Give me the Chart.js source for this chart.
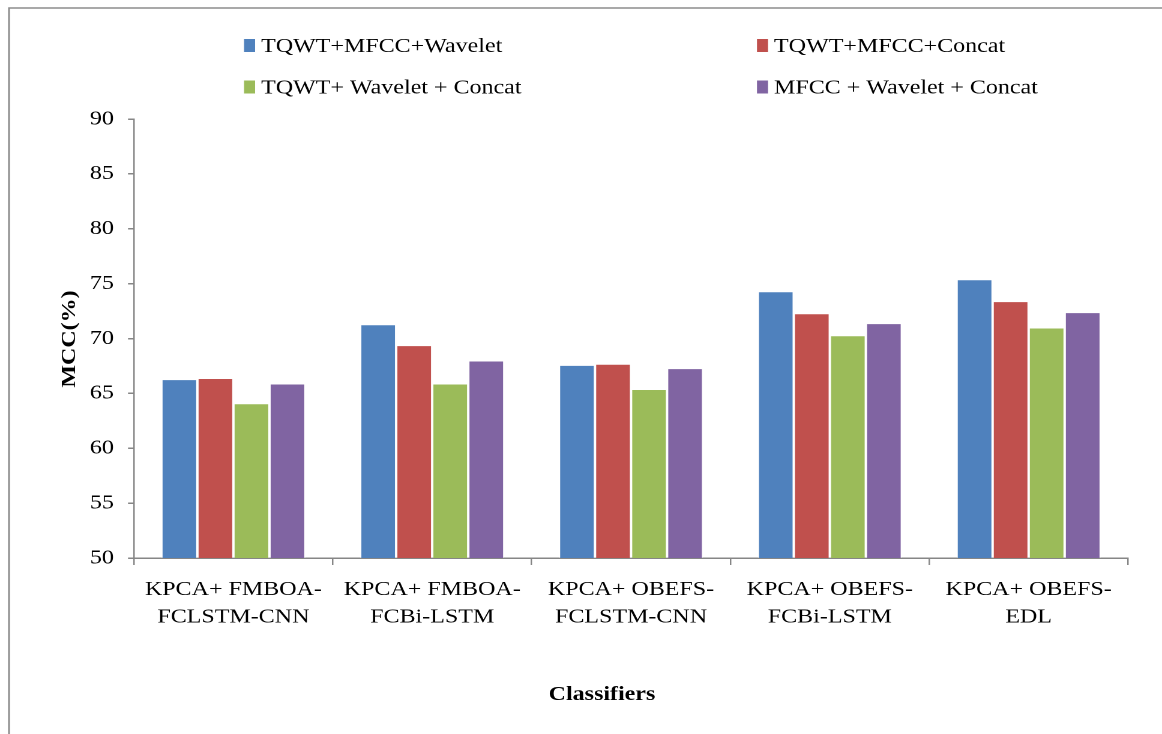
<!DOCTYPE html>
<html>
<head>
<meta charset="utf-8">
<script src="https://cdn.jsdelivr.net/npm/chart.js@4.4.1/dist/chart.umd.min.js"></script>
<style>
  html, body { margin: 0; padding: 0; background: #ffffff; overflow: hidden; }
  /* The figure is drawn on a narrower canvas and widened horizontally,
     giving the broad serif lettering of the original figure. */
  #wrap { width: 968px; height: 734px; position: relative; transform: scaleX(1.20041); transform-origin: 0 0; }
</style>
</head>
<body>
<div id="wrap"><canvas id="c" width="968" height="734"></canvas></div>
<script>
// Classifier groups on the x axis (two-line labels)
const categories = [
  ['KPCA+ FMBOA-', 'FCLSTM-CNN'],
  ['KPCA+ FMBOA-', 'FCBi-LSTM'],
  ['KPCA+ OBEFS-', 'FCLSTM-CNN'],
  ['KPCA+ OBEFS-', 'FCBi-LSTM'],
  ['KPCA+ OBEFS-', 'EDL']
];

// Feature combinations (series)
const seriesNames = [
  'TQWT+MFCC+Wavelet',
  'TQWT+MFCC+Concat',
  'TQWT+ Wavelet + Concat',
  'MFCC + Wavelet + Concat'
];
const seriesColors = ['#4F81BD', '#C0504D', '#9BBB59', '#8064A2'];

// MCC (%) per classifier
const tqwtMfccWavelet   = [66.3, 71.3, 67.6, 74.3, 75.4];
const tqwtMfccConcat    = [66.4, 69.4, 67.7, 72.3, 73.4];
const tqwtWaveletConcat = [64.1, 65.9, 65.4, 70.3, 71.0];
const mfccWaveletConcat = [65.9, 68.0, 67.3, 71.4, 72.4];

// Value axis range
const yMin = 50;
const yMax = 90;
const yStep = 5;

const yTitle = 'MCC(%)';
const xTitle = 'Classifiers';

const FONT = '"Liberation Serif", "Times New Roman", serif';
const AXIS_GRAY = '#868686';
const WIDEN = 1.20041;

const seriesValues = [tqwtMfccWavelet, tqwtMfccConcat, tqwtWaveletConcat, mfccWaveletConcat];

// Frame, legend and axis titles
const decorPlugin = {
  id: 'decor',
  beforeDraw(chart) {
    const ctx = chart.ctx;
    ctx.save();
    ctx.strokeStyle = '#8c8c8c';
    ctx.lineWidth = 1.5;
    ctx.beginPath();
    ctx.moveTo(7.5, 734);
    ctx.lineTo(7.5, 8);
    ctx.lineTo(968, 8);
    ctx.stroke();
    ctx.restore();
  },
  afterDraw(chart) {
    const ctx = chart.ctx;
    ctx.save();
    // Legend: two rows, two columns
    const colX = [203.3, 630.6];
    const rowY = [45.5, 87];
    ctx.font = '20px ' + FONT;
    ctx.textBaseline = 'middle';
    ctx.textAlign = 'left';
    chart.data.datasets.forEach((ds, i) => {
      const x = colX[i % 2];
      const y = rowY[Math.floor(i / 2)];
      ctx.fillStyle = ds.backgroundColor;
      ctx.fillRect(x, y - 6.5, 9.2, 13);
      ctx.fillStyle = '#000000';
      ctx.fillText(ds.label, x + 14.2, y + 1);
    });
    // Axis titles
    ctx.font = 'bold 20px ' + FONT;
    ctx.fillStyle = '#000000';
    ctx.textAlign = 'center';
    ctx.textBaseline = 'middle';
    ctx.fillText(xTitle, 501.5, 695);
    // Rotated title keeps the same wide lettering along its length
    ctx.save();
    ctx.translate(58.3, 339);
    ctx.rotate(-Math.PI / 2);
    ctx.scale(WIDEN, 1 / WIDEN);
    ctx.fillText(yTitle, 0, 0);
    ctx.restore();
    ctx.restore();
  }
};

new Chart(document.getElementById('c'), {
  type: 'bar',
  data: {
    labels: categories,
    datasets: seriesNames.map((name, i) => ({
      label: name,
      data: seriesValues[i],
      backgroundColor: seriesColors[i],
      borderColor: 'rgba(255,255,255,0.35)',
      borderWidth: 1,
      barPercentage: 1.0,
      categoryPercentage: 0.725
    }))
  },
  options: {
    responsive: false,
    animation: false,
    devicePixelRatio: 2,
    layout: { padding: { top: 119, right: 28.3, left: 0, bottom: 0 } },
    plugins: {
      legend: { display: false },
      tooltip: { enabled: false },
      title: { display: false }
    },
    scales: {
      x: {
        afterFit(scale) { scale.height = 176; },
        grid: {
          display: true,
          drawOnChartArea: false,
          drawTicks: true,
          tickLength: 7,
          color: AXIS_GRAY,
          lineWidth: 1.25,
          offset: true
        },
        border: { display: true, color: AXIS_GRAY, width: 1.5 },
        ticks: {
          color: '#000000',
          font: { family: FONT, size: 20, lineHeight: 1.375 },
          padding: 11,
          maxRotation: 0,
          autoSkip: false
        }
      },
      y: {
        min: yMin,
        max: yMax,
        afterFit(scale) { scale.width = 111.63; },
        grid: {
          display: true,
          drawOnChartArea: false,
          drawTicks: true,
          tickLength: 5,
          color: AXIS_GRAY,
          lineWidth: 1.5
        },
        border: { display: true, color: AXIS_GRAY, width: 1.25 },
        ticks: {
          stepSize: yStep,
          color: '#000000',
          font: { family: FONT, size: 20 },
          padding: 11.7
        }
      }
    }
  },
  plugins: [decorPlugin]
});
</script>
</body>
</html>
